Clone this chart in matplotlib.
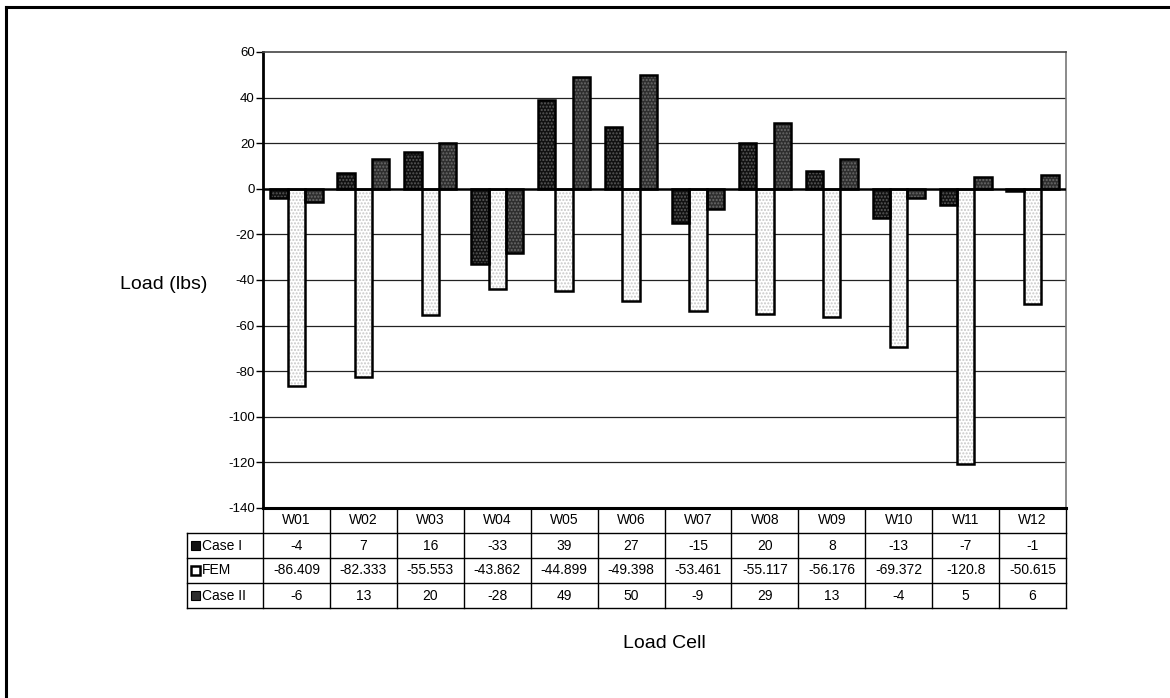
import matplotlib
matplotlib.use("Agg")
import matplotlib.pyplot as plt
from matplotlib.lines import Line2D
from matplotlib.patches import Rectangle
from matplotlib.transforms import blended_transform_factory
import numpy as np

plt.rcParams['font.family'] = ['Liberation Sans', 'DejaVu Sans']

cells = ["W01", "W02", "W03", "W04", "W05", "W06", "W07", "W08", "W09", "W10", "W11", "W12"]
case1 = [-4, 7, 16, -33, 39, 27, -15, 20, 8, -13, -7, -1]
fem = [-86.409, -82.333, -55.553, -43.862, -44.899, -49.398, -53.461, -55.117,
       -56.176, -69.372, -120.8, -50.615]
case2 = [-6, 13, 20, -28, 49, 50, -9, 29, 13, -4, 5, 6]
series_names = ["Case I", "FEM", "Case II"]
y_ticks = [60, 40, 20, 0, -20, -40, -60, -80, -100, -120, -140]

W, H = 1170, 698
fig = plt.figure(figsize=(W / 100, H / 100), dpi=100)

# outer frame (left and top edges)
fig.add_artist(Line2D([6 / W, 6 / W], [0, 1 - 7 / H], color='black', lw=2.2))
fig.add_artist(Line2D([6 / W, 1], [1 - 7 / H, 1 - 7 / H], color='black', lw=2.2))

ax_l, ax_t, ax_r, ax_b = 263, 52, 1066, 508
ax = fig.add_axes([ax_l / W, 1 - ax_b / H, (ax_r - ax_l) / W, (ax_b - ax_t) / H])
n = len(cells)
ax.set_xlim(0, n)
ax.set_ylim(-140, 60)

# fill styles: (face, stipple colour)
styles = [('#111111', '#5a5a5a'), ('white', '#c8c8c8'), ('#2e2e2e', '#6a6a6a')]
bw = 0.26
x = np.arange(n)
for k, (vals, (face, dots)) in enumerate(zip([case1, fem, case2], styles)):
    pos = x + 0.5 + (k - 1) * bw
    ax.bar(pos, vals, width=bw, color=face, edgecolor=dots, hatch='.....', lw=0, zorder=3)
    ax.bar(pos, vals, width=bw, fill=False, edgecolor='black', lw=1.8, zorder=4)

ax.set_yticks(y_ticks)
ax.set_yticklabels([str(t) for t in y_ticks], fontsize=9.5)
ax.tick_params(axis='y', direction='out', length=5, width=1, pad=1)
ax.set_xticks([])
for t in y_ticks:
    if t == 0:
        ax.axhline(t, color='black', lw=1.8, zorder=5)
    elif t not in (60, -140):
        ax.axhline(t, color='#222222', lw=0.9, zorder=1)
ax.spines['left'].set_linewidth(2)
ax.spines['top'].set_color('#444444')
ax.spines['top'].set_linewidth(1.2)
ax.spines['right'].set_color('#777777')
ax.spines['right'].set_linewidth(1.2)
ax.spines['bottom'].set_linewidth(2.2)

# data table under the axis
tr = blended_transform_factory(ax.transData, ax.transAxes)
row_h = 25 / (ax_b - ax_t)
lab_x0 = -76 / ((ax_r - ax_l) / n)
rows = [case1, fem, case2]
line_kw = dict(transform=tr, clip_on=False, color='black', lw=1.0)
tfs = 10

# header row
for i, c in enumerate(cells):
    ax.text(i + 0.5, -0.5 * row_h, c, transform=tr, ha='center', va='center', fontsize=tfs)
for j in range(1, 5):
    y = -j * row_h
    ax.add_line(Line2D([lab_x0, n], [y, y], **line_kw))
for i in range(0, n + 1):
    ax.add_line(Line2D([i, i], [0, -4 * row_h], **line_kw))
ax.add_line(Line2D([lab_x0, lab_x0], [-row_h, -4 * row_h], **line_kw))

key_w = 9 / ((ax_r - ax_l) / n)
key_h = 9 / (ax_b - ax_t)
key_face = ['#111111', 'white', '#2e2e2e']
for r, (name, vals) in enumerate(zip(series_names, rows)):
    yc = -(r + 1.5) * row_h
    ax.add_patch(Rectangle((lab_x0 + 3.5 / 66.9, yc - key_h / 2), key_w, key_h,
                           transform=tr, clip_on=False, facecolor=key_face[r],
                           edgecolor='black', lw=1.8 if r == 1 else 0.8))
    ax.text(lab_x0 + 15 / 66.9, yc, name, transform=tr, ha='left', va='center', fontsize=tfs)
    for i, v in enumerate(vals):
        ax.text(i + 0.5, yc, f"{v:g}", transform=tr, ha='center', va='center', fontsize=tfs)

fig.text(164 / W, 1 - 284 / H, "Load (lbs)", ha='center', va='center', fontsize=14)
fig.text(664 / W, 1 - 643 / H, "Load Cell", ha='center', va='center', fontsize=14)

fig.savefig("out.png", dpi=100, facecolor='white')
